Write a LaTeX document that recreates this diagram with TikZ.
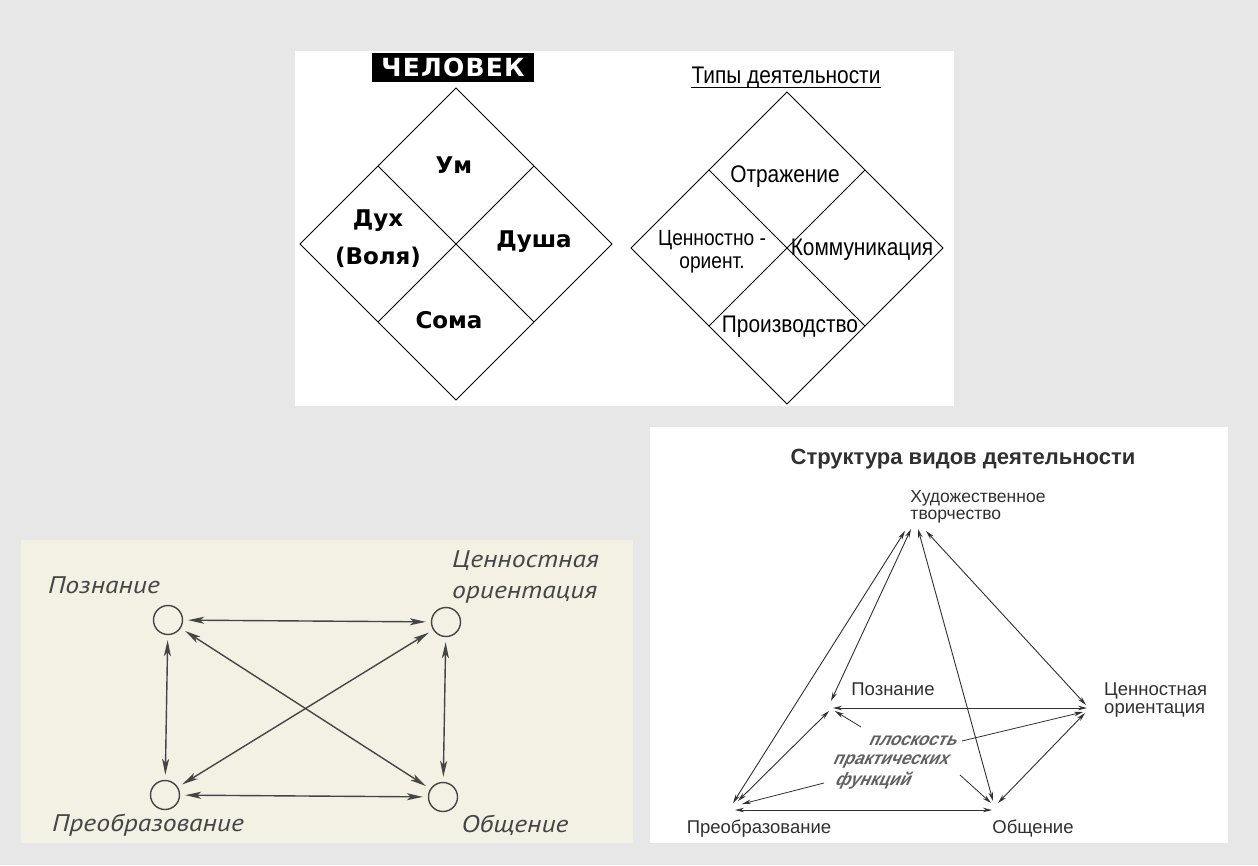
\documentclass[tikz,border=0pt]{standalone}
\usepackage{fontspec}
\setmainfont{Liberation Sans}
\newfontfamily\djv{DejaVu Sans}
\newfontfamily\djvwide[LetterSpace=5]{DejaVu Sans}
\newfontfamily\narrowfont[FakeStretch=0.87]{Liberation Sans}
\newfontfamily\gostfont[FakeStretch=1.15]{PT Sans}
\newfontfamily\slantfont[FakeSlant=0.45,FakeStretch=0.95]{Liberation Sans}
\usetikzlibrary{arrows.meta}
\definecolor{bg}{HTML}{E7E7E7}
\definecolor{cream}{HTML}{F3F0E4}
\definecolor{gostc}{HTML}{454545}
\definecolor{pyr}{HTML}{303030}
\tikzset{
  diam/.style={draw=black, line width=0.9pt, line join=miter},
  hum/.style={font=\djv\bfseries\fontsize{23}{38}\selectfont, align=center, inner sep=0pt},
  act/.style={font=\narrowfont\fontsize{24}{26}\selectfont, inner sep=0pt, align=center},
  circ/.style={circle, draw=gostc, line width=1.4pt, minimum size=29pt, inner sep=0pt},
  garrow/.style={draw=gostc, line width=1.4pt,
    {Stealth[length=16pt,width=7pt,inset=4pt]}-{Stealth[length=16pt,width=7pt,inset=4pt]}, shorten >=5pt, shorten <=5pt},
  gost/.style={font=\gostfont\itshape\fontsize{24}{31}\selectfont, text=gostc, inner sep=0pt, align=left},
  pline/.style={draw=pyr, line width=0.9pt,
    {Stealth[length=9pt,width=4.5pt]}-{Stealth[length=9pt,width=4.5pt]}},
  lead/.style={draw=pyr, line width=0.8pt, -{Stealth[length=9pt,width=4.5pt]}},
  plab/.style={font=\fontsize{18.5}{20}\selectfont, text=pyr, inner sep=0pt, align=left},
  slab/.style={font=\slantfont\bfseries\fontsize{18}{18}\selectfont, text=gostc!85, inner sep=0pt}
}
\begin{document}
\begin{tikzpicture}[x=1pt,y=-1pt]
\fill[bg] (0,0) rectangle (1258,865);
\useasboundingbox (0,0) rectangle (1258,865);
% panels
\fill[white] (295,51) rectangle (954,406);
\fill[cream] (21,540) rectangle (633,843);
\fill[white] (650,427) rectangle (1228,843);

% ---------- ЧЕЛОВЕК diamond ----------
\coordinate (ht) at (456,88);
\coordinate (hr) at (612,244);
\coordinate (hb) at (456,400);
\coordinate (hl) at (300,244);
\coordinate (hul) at (378,166);
\coordinate (hur) at (534,166);
\coordinate (hll) at (378,322);
\coordinate (hlr) at (534,322);
\draw[diam] (ht) -- (hr) -- (hb) -- (hl) -- cycle;
\draw[diam] (hul) -- (hlr);
\draw[diam] (hur) -- (hll);
\node[fill=black, text=white, minimum width=162pt, minimum height=29pt, inner sep=0pt,
      font=\djvwide\bfseries\fontsize{25}{25}\selectfont] (man) at (453,67.5) {ЧЕЛОВЕК};
\node[hum] (um) at (454,165) {Ум};
\node[hum] (dukh) at (378,239) {Дух\\(Воля)};
\node[hum] (dusha) at (534,242) {Душа};
\node[hum] (soma) at (449,320) {Сома};

% ---------- Типы деятельности diamond ----------
\coordinate (tt) at (787,92);
\coordinate (tr) at (943,248);
\coordinate (tb) at (787,404);
\coordinate (tl) at (631,248);
\coordinate (tul) at (709,170);
\coordinate (tur) at (865,170);
\coordinate (tll) at (709,326);
\coordinate (tlr) at (865,326);
\draw[diam] (tt) -- (tr) -- (tb) -- (tl) -- cycle;
\draw[diam] (tul) -- (tlr);
\draw[diam] (tur) -- (tll);
\node[act, anchor=base] (ttl) at (786,83) {Типы деятельности};
\draw[line width=1pt] ([yshift=-4pt]ttl.base west) -- ([yshift=-4pt]ttl.base east);
\node[act] (otr) at (785,177) {Отражение};
\node[act, font=\narrowfont\fontsize{22}{23}\selectfont] (cen) at (712,252) {Ценностно -\\ориент.};
\node[act] (kom) at (862,250) {Коммуникация};
\node[act] (pro) at (790,327) {Производство};

% ---------- bottom-left graph ----------
\node[circ] (P) at (168,620) {};
\node[circ] (C) at (446,622) {};
\node[circ] (T) at (165,795) {};
\node[circ] (O) at (443,797) {};
\draw[garrow] (P) -- (C);
\draw[garrow] (T) -- (O);
\draw[garrow] (P) -- (T);
\draw[garrow] (C) -- (O);
\draw[garrow] (P) -- (O);
\draw[garrow] (C) -- (T);
\node[gost] (lP) at (104,585) {Познание};
\node[gost, anchor=west] (lC) at (452,577) {Ценностная\\ориентация};
\node[gost] (lT) at (148,825) {Преобразование};
\node[gost] (lO) at (515,825) {Общение};

% ---------- bottom-right pyramid ----------
\node[font=\bfseries\fontsize{22}{24}\selectfont, text=pyr, inner sep=0pt] (st) at (963,459) {Структура видов деятельности};
\node[plab, font=\fontsize{17.5}{17.5}\selectfont] (hud) at (978,507) {Художественное\\творчество};
\node[plab] (lpz) at (893,689) {Познание};
\node[plab, anchor=west] (lcz) at (1104,700) {Ценностная\\[-2pt]ориентация};
\node[plab] (lpr) at (759,829) {Преобразование};
\node[plab] (lob) at (1033,829) {Общение};

\coordinate (a1) at (905,531);
\coordinate (a2) at (911,529);
\coordinate (a3) at (918,529);
\coordinate (a4) at (926,531);
\coordinate (pz1) at (831,701);
\coordinate (pz2) at (833,708);
\coordinate (pz3) at (829,711);
\coordinate (cz1) at (1086,705);
\coordinate (cz2) at (1087,708);
\coordinate (cz3) at (1085,713);
\coordinate (pr1) at (733,803);
\coordinate (pr2) at (735,810);
\coordinate (pr3) at (738,801);
\coordinate (ob1) at (993,801);
\coordinate (ob2) at (992,810);
\coordinate (ob3) at (998,803);

\draw[pline] (a1) -- (pr1);
\draw[pline] (a2) -- (pz1);
\draw[pline] (a3) -- (ob1);
\draw[pline] (a4) -- (cz1);
\draw[pline] (pz2) -- (cz2);
\draw[pline] (pr2) -- (ob2);
\draw[pline] (pr3) -- (pz3);
\draw[pline] (cz3) -- (ob3);

\node[slab] (pl1) at (912,741) {плоскость};
\node[slab] (pl2) at (890,761) {практических};
\node[slab] (pl3) at (872,781) {функций};
\coordinate (l1) at (861,727);
\coordinate (l2) at (962,741);
\coordinate (l3) at (824,783);
\coordinate (l4) at (960,775);
\draw[lead] (l1) -- (835,711);
\draw[lead] (l2) -- (1083,712);
\draw[lead] (l3) -- (742,804);
\draw[lead] (l4) -- (991,803);
\end{tikzpicture}
\end{document}
